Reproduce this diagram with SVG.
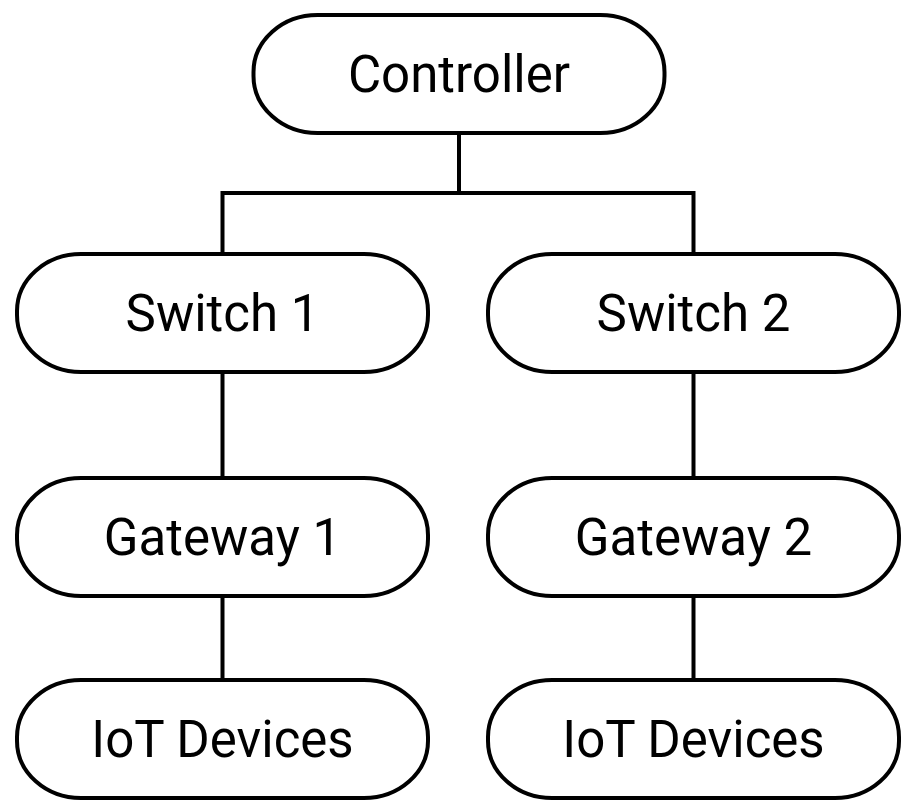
<svg xmlns="http://www.w3.org/2000/svg" width="917" height="810" viewBox="0 0 917 810">
<style>
.node rect{fill:#fff;stroke:#000;stroke-width:4}
.node text{font-family:Roboto,"Liberation Sans",sans-serif;font-size:51px;fill:#000;text-anchor:middle}
.conn{fill:none;stroke:#000;stroke-width:4}
</style>
<rect width="917" height="810" fill="#fff"/>
<g id="connectors">
<path class="conn" d="M459 133V193M222.5 193H693.5M222.5 191V254M693.5 191V254"/>
<path class="conn" d="M222.5 372V478M693.5 372V478"/>
<path class="conn" d="M222.5 596V680M693.5 596V680"/>
</g>
<g id="controller" class="node"><rect x="253.5" y="15" width="411" height="118" rx="64" ry="57"/><text x="459" y="92">Controller</text></g>
<g id="switch1" class="node"><rect x="17" y="254" width="411" height="118" rx="64" ry="57"/><text x="222.5" y="331">Switch 1</text></g>
<g id="switch2" class="node"><rect x="488" y="254" width="411" height="118" rx="64" ry="57"/><text x="693.5" y="331">Switch 2</text></g>
<g id="gateway1" class="node"><rect x="17" y="478" width="411" height="118" rx="64" ry="57"/><text x="222.5" y="555">Gateway 1</text></g>
<g id="gateway2" class="node"><rect x="488" y="478" width="411" height="118" rx="64" ry="57"/><text x="693.5" y="555">Gateway 2</text></g>
<g id="iot1" class="node"><rect x="17" y="680" width="411" height="118" rx="64" ry="57"/><text x="222.5" y="757">IoT Devices</text></g>
<g id="iot2" class="node"><rect x="488" y="680" width="411" height="118" rx="64" ry="57"/><text x="693.5" y="757">IoT Devices</text></g>
</svg>
